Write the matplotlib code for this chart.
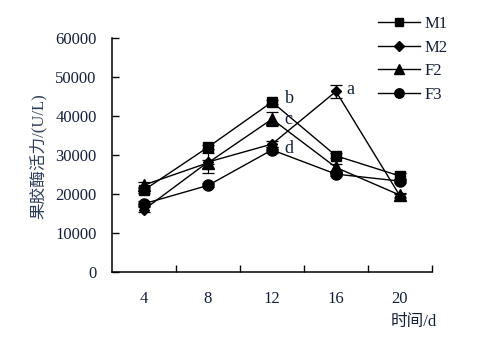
import numpy as np
import matplotlib.pyplot as plt
from matplotlib.ticker import FixedLocator

plt.rcParams['font.family'] = ['Liberation Serif', 'Noto Sans CJK SC']

days = ['4', '8', '12', '16', '20']
m1 = [21000, 32000, 43600, 29800, 24600]
m1_err = [700, 500, 600, 600, 800]
m2 = [16000, 28200, 32800, 46300, 19500]
m2_err = [600, 500, 800, 1700, 500]
f2 = [22300, 28000, 39200, 26800, 19700]
f2_err = [700, 2500, 1700, 900, 500]
f3 = [17500, 22200, 31300, 25100, 23300]
f3_err = [700, 500, 700, 600, 600]

letters = ['b', 'a', 'c', 'd']
letter_x = [2.2, 3.16, 2.2, 2.2]
letter_y = [44600, 46800, 39200, 31600]

txt = '#15203a'

fig = plt.figure(figsize=(4.88, 3.55), dpi=100)
ax = fig.add_axes([112/488, 1-272/355, 320/488, 234/355])

x = np.arange(len(days))
series = [('M1', m1, m1_err, 's', 7.5), ('M2', m2, m2_err, 'D', 5.5),
          ('F2', f2, f2_err, '^', 8), ('F3', f3, f3_err, 'o', 8)]
handles = []
for name, vals, err, mk, ms in series:
	c = ax.errorbar(x, vals, yerr=err, color='black', marker=mk, markersize=ms,
	                linewidth=1, elinewidth=0.9, capsize=4, capthick=0.9, label=name)
	handles.append(c[0])

for t, tx, ty in zip(letters, letter_x, letter_y):
	ax.text(tx, ty, t, fontsize=13, color=txt, ha='left', va='center')

ax.set_xlim(-0.5, 4.5)
ax.set_ylim(0, 60000)
ax.set_yticks(np.arange(0, 60001, 10000))
ax.xaxis.set_major_locator(FixedLocator([0.5, 1.5, 2.5, 3.5, 4.5]))
ax.xaxis.set_minor_locator(FixedLocator(x))
ax.set_xticklabels([], minor=False)
ax.set_xticklabels(days, minor=True)
ax.tick_params(axis='x', which='major', direction='in', length=5, width=1)
ax.tick_params(axis='x', which='minor', length=0, pad=14, labelsize=12, labelcolor=txt)
ax.tick_params(axis='y', direction='in', length=5, width=1, pad=11, labelsize=12, labelcolor=txt)
ax.spines['top'].set_visible(False)
ax.spines['right'].set_visible(False)
for s in ['left', 'bottom']:
	ax.spines[s].set_linewidth(1.1)

fig.text(38/488, 1-156/355, '果胶酶活力/(U/L)', rotation=90, ha='center', va='center',
         fontsize=12, color='#2e3d58')
fig.text(437/488, 1-322/355, '时间/d', ha='right', va='center', fontsize=12, color=txt)

leg = ax.legend(handles=handles, labels=['M1', 'M2', 'F2', 'F3'], loc='upper left',
                bbox_to_anchor=(370/488, 1-8/355),
                bbox_transform=fig.transFigure, frameon=False, fontsize=12,
                handlelength=2.5, handletextpad=0.3, labelspacing=0.45,
                borderpad=0, markerscale=0.85)
for t in leg.get_texts():
	t.set_color(txt)

fig.savefig('out.png', dpi=100)
